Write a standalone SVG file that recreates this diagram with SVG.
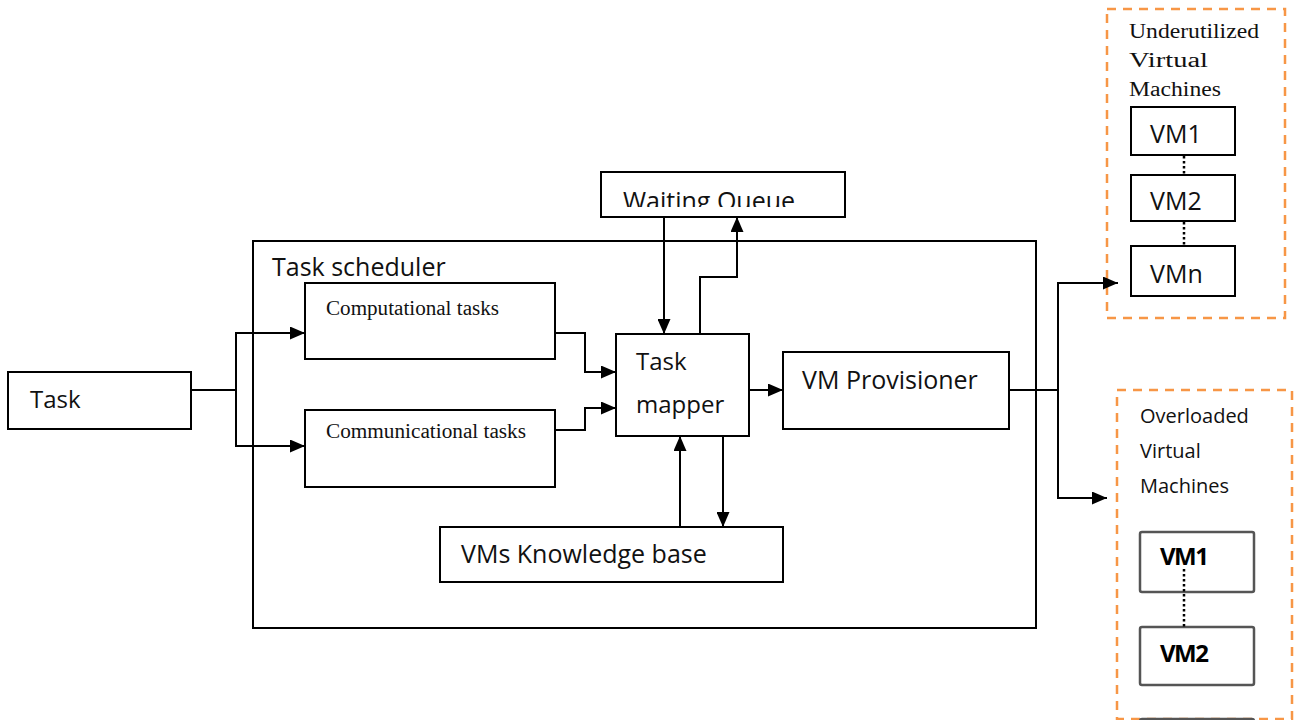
<svg xmlns="http://www.w3.org/2000/svg" width="1296" height="720" viewBox="0 0 1296 720">
<style>
.box{fill:#fff;stroke:#000;stroke-width:2}
.gbox{fill:#fff;stroke:#555;stroke-width:2.5}
.dash{fill:none;stroke:#F79646;stroke-width:2.5;stroke-dasharray:9 7}
.ln{fill:none;stroke:#000;stroke-width:2}
.dot{fill:none;stroke:#000;stroke-width:2.5;stroke-dasharray:2.5 2.5}
.s{font-family:"Open Sans","DejaVu Sans",sans-serif;font-size:25px;fill:#111}
.s24{font-size:24px}
.s20{font-size:20px}
.serif{font-family:"Liberation Serif","Times New Roman",serif;font-size:20px;fill:#111}
.b{font-family:"Open Sans","DejaVu Sans",sans-serif;font-size:24px;font-weight:bold;fill:#000;letter-spacing:-1.5px}
</style>
<defs>
<marker id="ah" markerUnits="userSpaceOnUse" markerWidth="15" markerHeight="13" viewBox="0 0 15 13" refX="15" refY="6.5" orient="auto">
<path d="M0,0 L15,6.5 L0,13 z" fill="#000"/>
</marker>
<clipPath id="wqclip"><rect x="601" y="172" width="244" height="35"/></clipPath>
</defs>
<rect width="1296" height="720" fill="#fff"/>

<g id="scheduler">
<rect class="box" x="253" y="241" width="783" height="387"/>
<text class="s" x="272" y="276">Task scheduler</text>
</g>

<g id="task">
<rect class="box" x="8" y="372" width="183" height="57"/>
<text class="s s24" x="30" y="408">Task</text>
</g>

<g id="computational">
<rect class="box" x="305" y="283" width="250" height="76"/>
<text class="serif" x="326" y="315" textLength="173" lengthAdjust="spacingAndGlyphs">Computational tasks</text>
</g>

<g id="communicational">
<rect class="box" x="305" y="410" width="250" height="77"/>
<text class="serif" x="326" y="438" textLength="200" lengthAdjust="spacingAndGlyphs">Communicational tasks</text>
</g>

<g id="mapper">
<rect class="box" x="616" y="334" width="133" height="102"/>
<text class="s s24" x="636" y="370">Task</text>
<text class="s s24" x="636" y="413">mapper</text>
</g>

<g id="waiting">
<rect class="box" x="601" y="172" width="244" height="45"/>
<text class="s" x="623" y="210" clip-path="url(#wqclip)">Waiting Queue</text>
</g>

<g id="provisioner">
<rect class="box" x="783" y="352" width="226" height="77"/>
<text class="s" x="802" y="389">VM Provisioner</text>
</g>

<g id="knowledge">
<rect class="box" x="440" y="527" width="343" height="55"/>
<text class="s" x="461" y="563">VMs Knowledge base</text>
</g>

<g id="underutilized">
<rect class="dash" x="1107" y="9" width="178" height="309"/>
<text class="serif" x="1129" y="38" textLength="130" lengthAdjust="spacingAndGlyphs">Underutilized</text>
<text class="serif" x="1129" y="67" textLength="79" lengthAdjust="spacingAndGlyphs">Virtual</text>
<text class="serif" x="1129" y="96" textLength="92" lengthAdjust="spacingAndGlyphs">Machines</text>
<rect class="box" x="1131" y="107" width="104" height="48"/>
<text class="s" x="1150" y="143">VM1</text>
<rect class="box" x="1131" y="175" width="104" height="46"/>
<text class="s" x="1150" y="210">VM2</text>
<rect class="box" x="1131" y="246" width="104" height="50"/>
<text class="s" x="1150" y="283">VMn</text>
<path class="dot" d="M1184,156 V175 M1184,222 V246"/>
</g>

<g id="overloaded">
<rect class="dash" x="1117" y="390" width="175" height="329"/>
<text class="s s20" x="1140" y="423">Overloaded</text>
<text class="s s20" x="1140" y="458">Virtual</text>
<text class="s s20" x="1140" y="493">Machines</text>
<rect class="gbox" x="1140" y="532" width="114" height="60" rx="2"/>
<text class="b" x="1160" y="565">VM1</text>
<rect class="gbox" x="1140" y="627" width="114" height="58" rx="2"/>
<text class="b" x="1160" y="662">VM2</text>
<rect class="gbox" x="1140" y="719" width="114" height="40" rx="2"/>
<path class="dot" d="M1184,569 V627"/>
</g>

<g id="connectors">
<path class="ln" d="M191,390 H236 V333 H305" marker-end="url(#ah)"/>
<path class="ln" d="M191,390 H236 V446 H305" marker-end="url(#ah)"/>
<path class="ln" d="M555,333 H585 V372 H616" marker-end="url(#ah)"/>
<path class="ln" d="M555,430 H585 V408 H616" marker-end="url(#ah)"/>
<path class="ln" d="M664,217 V334" marker-end="url(#ah)"/>
<path class="ln" d="M700,334 V277 H737 V217" marker-end="url(#ah)"/>
<path class="ln" d="M749,390 H783" marker-end="url(#ah)"/>
<path class="ln" d="M680,527 V436" marker-end="url(#ah)"/>
<path class="ln" d="M723,436 V527" marker-end="url(#ah)"/>
<path class="ln" d="M1009,390 H1058 V283 H1118" marker-end="url(#ah)"/>
<path class="ln" d="M1009,390 H1058 V498 H1107" marker-end="url(#ah)"/>
</g>
</svg>
